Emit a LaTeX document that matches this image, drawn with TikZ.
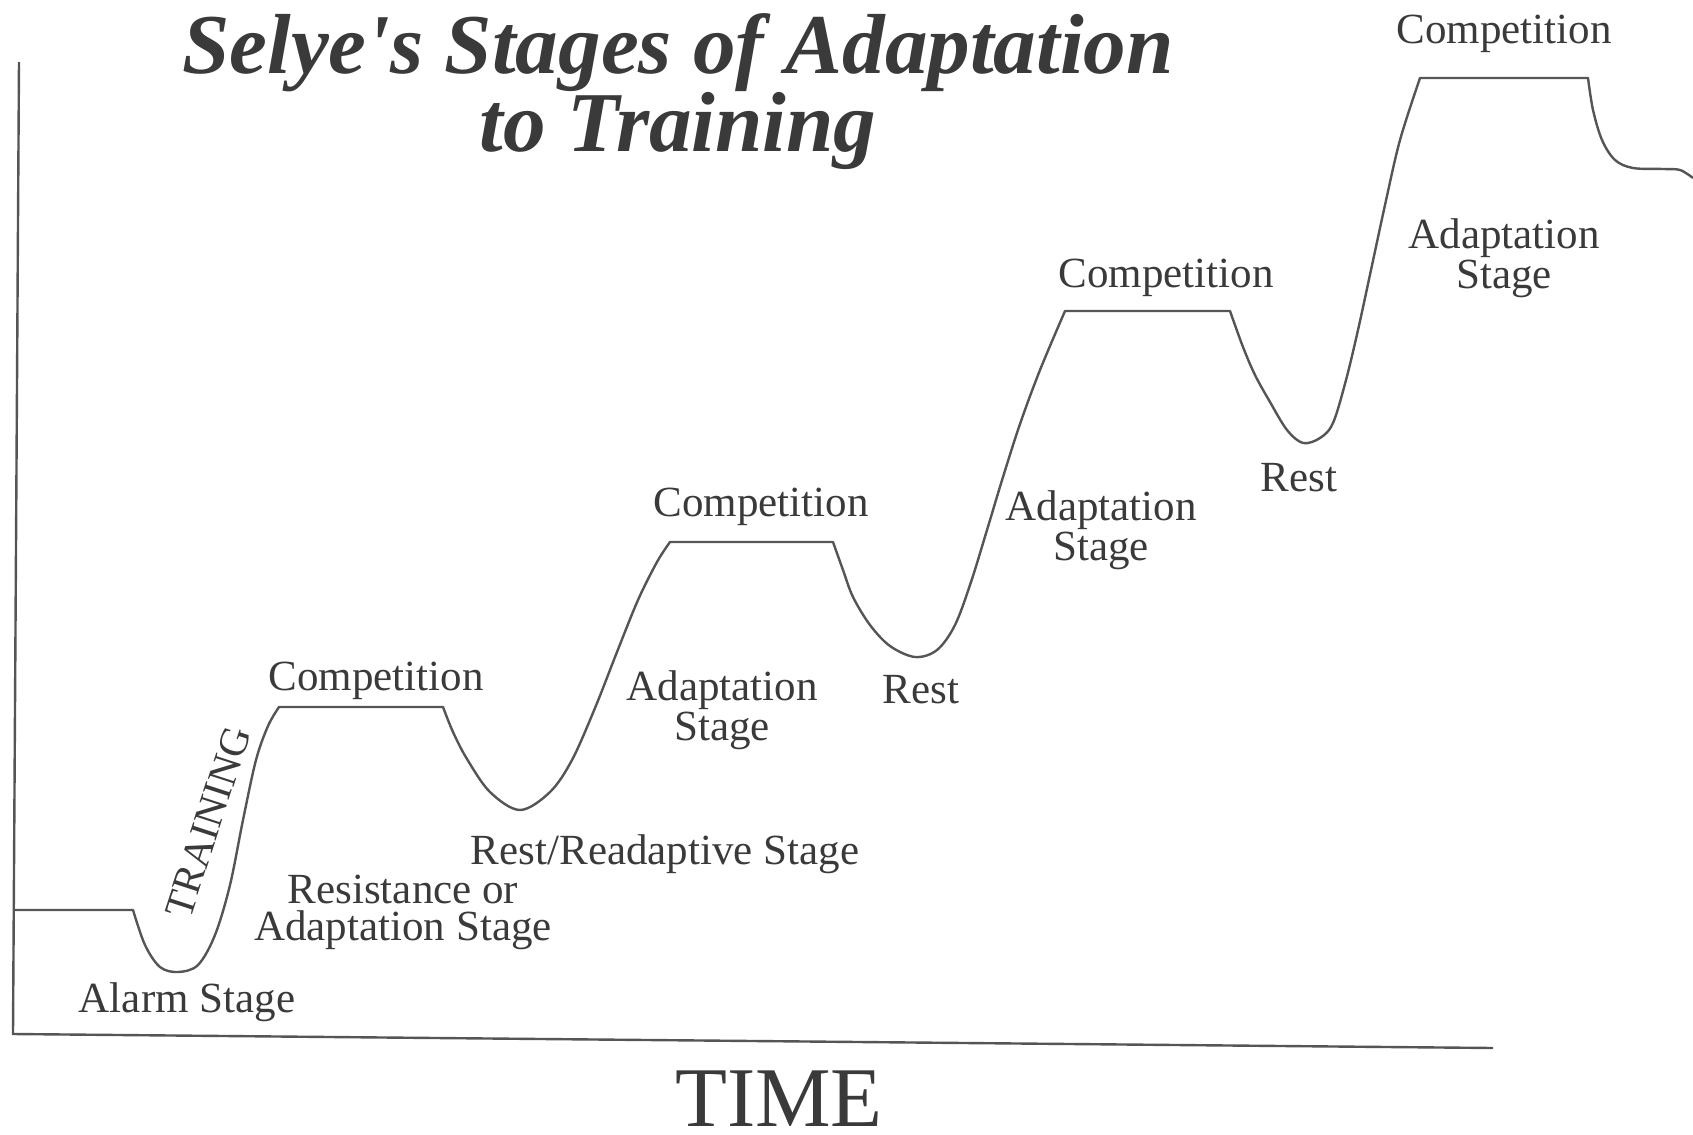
\documentclass[tikz,border=0pt]{standalone}
\usepackage{fontspec}
\setmainfont{Liberation Serif}
\definecolor{ink}{HTML}{3A3A3A}
\definecolor{linec}{HTML}{555555}
\begin{document}
\begin{tikzpicture}[x=0.5pt,y=-0.5pt,
  lbl/.style={font=\fontsize{21.5}{18.5}\selectfont, text=ink, anchor=base, inner sep=0pt, align=center},
  ttl/.style={font=\fontsize{42.6}{42.6}\selectfont\bfseries\itshape, text=ink, anchor=base, inner sep=0pt},
  axis/.style={draw=linec, line width=1.2pt},
  curve/.style={draw=linec, line width=1.2pt, line join=round}]
\useasboundingbox (0,0) rectangle (1693,1135);
% axes
\coordinate (top) at (19,62);
\coordinate (org) at (13,1034);
\coordinate (xend) at (1493,1048);
\draw[axis] (top) -- (org) -- (xend);
% curve
\draw[curve] (13,910) -- (133,910)
  -- plot[smooth, tension=0.55] coordinates {(133,910) (145,945) (160,967) (178,972) (198,965) (215,935) (230,885) (243,820) (256,760) (268,726) (279,707)}
  -- (443,707)
  -- plot[smooth, tension=0.55] coordinates {(443,707) (453,732) (467,759) (490,792) (520,810) (550,792) (572,760) (595,708) (617,652) (638,600) (657,562) (670,542)}
  -- (833,542)
  -- plot[smooth, tension=0.55] coordinates {(833,542) (843,570) (853,597) (870,625) (890,646) (915,657) (937,650) (955,625) (971,582) (987,530) (1003,477) (1020,424) (1040,370) (1065,311)}
  -- (1230,311)
  -- plot[smooth, tension=0.55] coordinates {(1230,311) (1243,347) (1255,375) (1270,402) (1287,430) (1303,443) (1320,438) (1333,423) (1346,380) (1358,330) (1371,270) (1385,205) (1400,140) (1420,78)}
  -- (1588,78)
  -- plot[smooth, tension=0.55] coordinates {(1588,78) (1593,110) (1602,140) (1615,160) (1633,168) (1663,169) (1680,170) (1693,178)};
% title
\node[ttl] (t1) at (678,73) {Selye\textquotesingle s Stages of Adaptation};
\node[ttl] (t2) at (678,151) {to Training};
% labels
\node[lbl] (alarm) at (187,1012) {Alarm Stage};
\node[lbl, font=\fontsize{20.5}{18.5}\selectfont, rotate=72, anchor=center] (training) at (208,822) {TRAINING};
\node[lbl] (resist) at (403,940) {Resistance or\\Adaptation Stage};
\node[lbl] (comp1) at (376,690) {Competition};
\node[lbl] (restre) at (665,864) {Rest/Readaptive Stage};
\node[lbl] (adapt2) at (722,740) {Adaptation\\Stage};
\node[lbl] (comp2) at (761,516) {Competition};
\node[lbl] (rest1) at (921,703) {Rest};
\node[lbl] (adapt3) at (1101,560) {Adaptation\\Stage};
\node[lbl] (comp3) at (1166,287) {Competition};
\node[lbl] (rest2) at (1299,491) {Rest};
\node[lbl] (adapt4) at (1504,288) {Adaptation\\Stage};
\node[lbl] (comp4) at (1504,43) {Competition};
\node[font=\fontsize{42.5}{42.5}\selectfont, text=ink, anchor=base, inner sep=0pt] (time) at (779,1126) {TIME};
\end{tikzpicture}
\end{document}
